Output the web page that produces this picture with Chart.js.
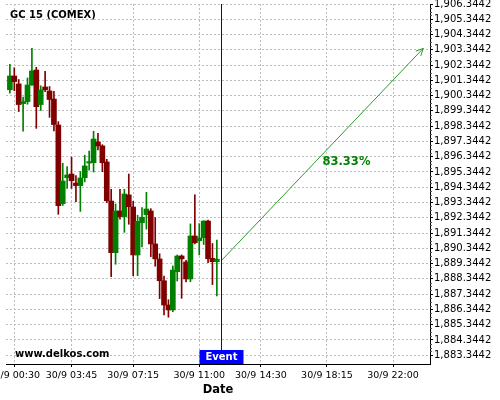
<!DOCTYPE html>
<html><head><meta charset="utf-8">
<script src="https://cdn.jsdelivr.net/npm/chart.js@4.4.0/dist/chart.umd.min.js"></script>
<style>html,body{margin:0;padding:0;background:#fff}canvas{display:block}</style>
</head><body>
<canvas id="c" width="500" height="400"></canvas>
<script>
const FONT = 'DejaVu Sans';
const chartTitle = 'GC 15 (COMEX)';
const watermark = 'www.delkos.com';
const candleTimes = ['00:15','00:30','00:45','01:00','01:15','01:30','01:45','02:00','02:15','02:30','02:45','03:00',
  '03:15','03:30','03:45','04:00','04:15','04:30','04:45','05:00','05:15','05:30','05:45','06:00',
  '06:15','06:30','06:45','07:00','07:15','07:30','07:45','08:00','08:15','08:30','08:45','09:00',
  '09:15','09:30','09:45','10:00','10:15','10:30','10:45','11:00','11:15','11:30','11:45','12:00'];
const opens  = [1900.73,1901.63,1901.11,1899.82,1899.95,1901.04,1902.02,1899.76,1900.91,1900.65,1900.12,1898.42,
  1893.27,1894.97,1895.21,1894.62,1894.45,1894.97,1895.93,1895.95,1897.31,1897.05,1896.00,1893.44,
  1890.06,1892.79,1892.42,1893.84,1893.05,1889.91,1892.02,1892.55,1892.79,1890.63,1889.65,1888.22,
  1886.63,1886.31,1888.81,1889.84,1889.45,1888.34,1891.15,1890.84,1891.04,1892.13,1889.69,1889.47];
const highs  = [1902.40,1902.17,1901.40,1900.25,1901.50,1903.44,1902.20,1900.99,1901.94,1900.94,1900.63,1898.64,
  1895.91,1895.70,1896.32,1895.10,1895.38,1896.44,1896.72,1898.01,1897.88,1897.13,1896.17,1894.21,
  1893.25,1894.21,1894.21,1895.21,1893.42,1892.51,1893.02,1894.01,1892.94,1892.36,1889.99,1888.53,
  1886.98,1889.19,1889.91,1889.91,1889.55,1891.94,1893.84,1891.96,1892.15,1892.20,1890.66,1890.89];
const lows   = [1900.50,1900.67,1899.30,1898.01,1899.78,1901.01,1898.20,1899.37,1900.60,1898.92,1898.03,1892.57,
  1893.15,1894.26,1894.27,1893.40,1892.76,1894.69,1895.47,1895.34,1896.78,1895.36,1893.33,1888.49,
  1889.30,1892.26,1891.39,1891.92,1888.55,1888.55,1890.43,1891.60,1889.80,1889.17,1887.05,1885.98,
  1885.83,1886.19,1888.20,1887.07,1888.14,1888.16,1890.63,1889.91,1890.59,1889.40,1887.97,1887.22];
const closes = [1901.63,1901.26,1899.76,1899.95,1901.04,1901.96,1899.62,1900.71,1900.73,1900.09,1898.45,1893.14,
  1894.75,1895.15,1894.77,1894.45,1894.95,1895.74,1896.02,1897.50,1897.05,1895.95,1893.46,1890.06,
  1892.79,1892.42,1893.90,1893.07,1889.91,1892.11,1892.38,1892.92,1890.63,1889.65,1888.22,1886.63,
  1886.31,1888.92,1889.84,1889.65,1888.34,1891.15,1890.71,1891.02,1892.13,1889.66,1889.47,1889.63];
const xTickTimes  = ['00:30','03:45','07:15','11:00','14:30','18:15','22:00'];
const xTickLabels = ['30/9 00:30','30/9 03:45','30/9 07:15','30/9 11:00','30/9 14:30','30/9 18:15','30/9 22:00'];
const yTickValues = [1883.3442,1884.3442,1885.3442,1886.3442,1887.3442,1888.3442,1889.3442,1890.3442,1891.3442,1892.3442,
  1893.3442,1894.3442,1895.3442,1896.3442,1897.3442,1898.3442,1899.3442,1900.3442,1901.3442,1902.3442,1903.3442,1904.3442,1905.3442,1906.3442];
const yTickLabels = ['1,883.3442','1,884.3442','1,885.3442','1,886.3442','1,887.3442','1,888.3442','1,889.3442','1,890.3442','1,891.3442','1,892.3442',
  '1,893.3442','1,894.3442','1,895.3442','1,896.3442','1,897.3442','1,898.3442','1,899.3442','1,900.3442','1,901.3442','1,902.3442','1,903.3442','1,904.3442','1,905.3442','1,906.3442'];
const eventTime = '12:15';
const eventLabel = 'Event';
const arrowTimes = ['12:15','23:43'];
const arrowValues = [1889.53, 1903.44];
const arrowLabel = '83.33%';
const xTitle = 'Date';

const toMin = s => { const p = s.split(':').map(Number); return p[0]*60 + p[1]; };
const UP = '#008000', DOWN = '#800000';
const colors = opens.map((o,i) => closes[i] >= o ? UP : DOWN);

const overlay = {
  id: 'overlay',
  afterDatasetsDraw(chart) {
    const {ctx, chartArea: a, scales: {x, y}} = chart;
    ctx.save();
    // minor ticks on y axis
    ctx.strokeStyle = '#555'; ctx.lineWidth = 1;
    for (let k = 0; k < yTickValues.length; k++) {
      for (let j = 1; j < 4; j++) {
        const v = yTickValues[k] + j*0.25;
        if (v > y.max) continue;
        const py = Math.round(y.getPixelForValue(v)) + 0.5;
        ctx.beginPath(); ctx.moveTo(a.right, py); ctx.lineTo(a.right + 2, py); ctx.stroke();
      }
    }
    // event line
    const ex = Math.round(x.getPixelForValue(toMin(eventTime))) + 0.5;
    ctx.strokeStyle = '#0000dd'; ctx.lineWidth = 1;
    ctx.beginPath(); ctx.moveTo(ex, a.top); ctx.lineTo(ex, a.bottom); ctx.stroke();
    // arrow head
    const x1 = x.getPixelForValue(toMin(arrowTimes[0])), y1 = y.getPixelForValue(arrowValues[0]);
    const x2 = x.getPixelForValue(toMin(arrowTimes[1])), y2 = y.getPixelForValue(arrowValues[1]);
    const ang = Math.atan2(y2 - y1, x2 - x1);
    const L = 8, spread = Math.PI/7;
    ctx.strokeStyle = '#2e9a2e'; ctx.lineWidth = 1;
    ctx.beginPath();
    ctx.moveTo(x2 - L*Math.cos(ang - spread), y2 - L*Math.sin(ang - spread));
    ctx.lineTo(x2, y2);
    ctx.lineTo(x2 - L*Math.cos(ang + spread), y2 - L*Math.sin(ang + spread));
    ctx.stroke();
    // arrow label
    ctx.fillStyle = '#008000';
    ctx.font = 'bold 11.5px "' + FONT + '"';
    ctx.textAlign = 'left'; ctx.textBaseline = 'middle';
    ctx.fillText(arrowLabel, 322.5, 162.5);
    // event box
    ctx.fillStyle = '#0000ff';
    ctx.fillRect(ex - 22, a.bottom - 14, 44, 14);
    ctx.fillStyle = '#ffffff';
    ctx.font = 'bold 10px "' + FONT + '"';
    ctx.textAlign = 'center'; ctx.textBaseline = 'middle';
    ctx.fillText(eventLabel, ex, a.bottom - 6.5);
    // texts
    ctx.fillStyle = '#000';
    ctx.textAlign = 'left';
    ctx.fillText(chartTitle, 10, 15.5);
    ctx.fillText(watermark, 15, 354);
    ctx.restore();
  }
};

new Chart(document.getElementById('c'), {
  type: 'bar',
  data: {
    datasets: [
      {
        type: 'bar', label: 'body', order: 0, grouped: false,
        data: candleTimes.map((t,i) => ({x: toMin(t), y: [opens[i], closes[i]]})),
        backgroundColor: colors, borderWidth: 0, barThickness: 5, minBarLength: 1
      },
      {
        type: 'bar', label: 'wick', order: 1, grouped: false,
        data: candleTimes.map((t,i) => ({x: toMin(t), y: [lows[i], highs[i]]})),
        backgroundColor: colors, borderWidth: 0, barThickness: 1
      },
      {
        type: 'line', label: 'arrow', order: 2,
        data: arrowTimes.map((t,i) => ({x: toMin(t), y: arrowValues[i]})),
        borderColor: '#2e9a2e', borderWidth: 1, pointRadius: 0, fill: false, tension: 0
      }
    ]
  },
  options: {
    responsive: false, animation: false, devicePixelRatio: 1,
    layout: {padding: {left: 6, top: 4, right: 0, bottom: 0}},
    plugins: {legend: {display: false}, tooltip: {enabled: false}},
    scales: {
      x: {
        type: 'linear', position: 'bottom', min: 1.75, max: 1446, offset: false,
        afterBuildTicks: s => { s.ticks = xTickTimes.map(t => ({value: toMin(t)})); },
        afterFit: s => { s.height = 36; s.paddingLeft = 0; s.paddingRight = 0; },
        ticks: {callback: (v,i) => xTickLabels[i], autoSkip: false, maxRotation: 0, minRotation: 0,
                font: {family: FONT, size: 9.5}, color: '#000', padding: 3},
        grid: {offset: false, color: '#bdbdbd', lineWidth: 1, tickLength: 3, tickColor: '#000'},
        border: {display: true, color: '#000', width: 1, dash: [2,2]},
        title: {display: true, text: xTitle, color: '#000', font: {family: FONT, size: 11.5, weight: 'bold'}, padding: {top: 0, bottom: 3.5}}
      },
      y: {
        type: 'linear', position: 'right', min: 1882.768, max: 1906.3442,
        afterBuildTicks: s => { s.ticks = yTickValues.map(v => ({value: v})); },
        afterFit: s => { s.width = 70; s.paddingTop = 0; s.paddingBottom = 0; },
        ticks: {callback: (v,i) => yTickLabels[i], autoSkip: false, font: {family: FONT, size: 10}, color: '#000', padding: 1},
        grid: {color: '#bdbdbd', lineWidth: 1, tickLength: 3, tickColor: '#000'},
        border: {display: true, color: '#000', width: 1, dash: [2,2]}
      }
    }
  },
  plugins: [overlay]
});
</script>
</body></html>
